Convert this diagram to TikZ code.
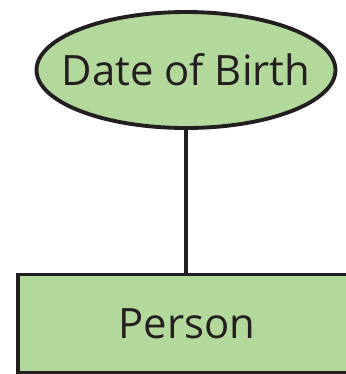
\documentclass[tikz,border=0pt]{standalone}
\usepackage{fontspec}
\setmainfont{Open Sans}
\usepackage{xcolor}
\definecolor{ergreen}{RGB}{179,216,155}
\definecolor{erdark}{RGB}{35,31,32}
\usetikzlibrary{shapes.geometric,positioning}

\begin{document}
\begin{tikzpicture}
  \tikzset{
    attrnode/.style={ellipse, draw=erdark, fill=ergreen, line width=1.1pt, inner sep=0pt,
      minimum width=2.99cm, minimum height=1.16cm, font=\fontsize{11.9}{13}\selectfont, text=erdark},
    entnode/.style={rectangle, draw=erdark, fill=ergreen, line width=1.1pt, inner sep=0pt,
      minimum width=3.38cm, minimum height=0.98cm, font=\fontsize{11.9}{13}\selectfont, text=erdark}
  }
  \useasboundingbox (0,0) rectangle (3.45,3.74);

  % Attribute
  \node[attrnode] (dob) at (1.86,3.04) {\makebox[0pt]{Date of Birth}};

  % Entity
  \node[entnode] (person) at (1.87,0.505) {Person};

  % Link
  \draw[erdark, line width=1.1pt] (dob.south) -- (dob.south |- person.north);
\end{tikzpicture}
\end{document}
